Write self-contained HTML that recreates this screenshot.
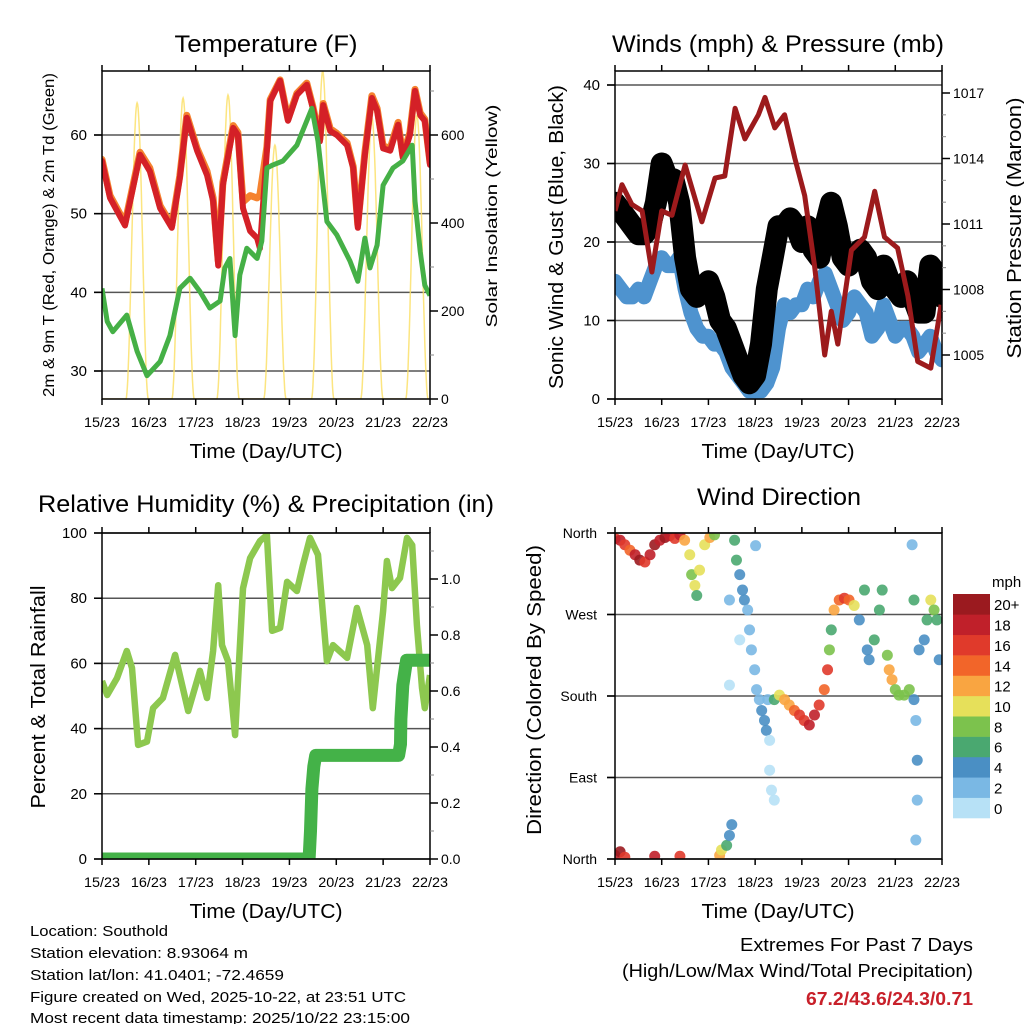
<!DOCTYPE html>
<html><head><meta charset="utf-8"><style>
html,body{margin:0;padding:0;background:#fff;}
svg{display:block;font-family:"Liberation Sans",sans-serif;}
</style></head><body>
<svg id="fig" width="1024" height="1024" viewBox="0 0 1024 1024" xmlns="http://www.w3.org/2000/svg">
<rect width="1024" height="1024" fill="#fff"/>
<text x="266" y="52" font-size="24" text-anchor="middle" textLength="183" lengthAdjust="spacingAndGlyphs">Temperature (F)</text>
<text x="778" y="52" font-size="24" text-anchor="middle" textLength="332" lengthAdjust="spacingAndGlyphs">Winds (mph) &amp; Pressure (mb)</text>
<text x="266" y="512" font-size="24" text-anchor="middle" textLength="456" lengthAdjust="spacingAndGlyphs">Relative Humidity (%) &amp; Precipitation (in)</text>
<text x="779" y="505" font-size="24" text-anchor="middle" textLength="164" lengthAdjust="spacingAndGlyphs">Wind Direction</text>
<text x="266" y="458" font-size="20" text-anchor="middle" textLength="153" lengthAdjust="spacingAndGlyphs">Time (Day/UTC)</text>
<text x="778" y="458" font-size="20" text-anchor="middle" textLength="153" lengthAdjust="spacingAndGlyphs">Time (Day/UTC)</text>
<text x="266" y="918" font-size="20" text-anchor="middle" textLength="153" lengthAdjust="spacingAndGlyphs">Time (Day/UTC)</text>
<text x="778" y="918" font-size="20" text-anchor="middle" textLength="153" lengthAdjust="spacingAndGlyphs">Time (Day/UTC)</text>
<text transform="translate(54,235) rotate(-90)" font-size="16" text-anchor="middle" textLength="324" lengthAdjust="spacingAndGlyphs">2m &amp; 9m T (Red, Orange) &amp; 2m Td (Green)</text>
<text transform="translate(497,216) rotate(-90)" font-size="16" text-anchor="middle" textLength="223" lengthAdjust="spacingAndGlyphs">Solar Insolation (Yellow)</text>
<text transform="translate(563,237) rotate(-90)" font-size="20" text-anchor="middle" textLength="304" lengthAdjust="spacingAndGlyphs">Sonic Wind &amp; Gust (Blue, Black)</text>
<text transform="translate(1021,228) rotate(-90)" font-size="20" text-anchor="middle" textLength="261" lengthAdjust="spacingAndGlyphs">Station Pressure (Maroon)</text>
<text transform="translate(45,697) rotate(-90)" font-size="20" text-anchor="middle" textLength="223" lengthAdjust="spacingAndGlyphs">Percent &amp; Total Rainfall</text>
<text transform="translate(541,690) rotate(-90)" font-size="20" text-anchor="middle" textLength="290" lengthAdjust="spacingAndGlyphs">Direction (Colored By Speed)</text>
<g font-size="15">
<text x="30" y="936" textLength="138" lengthAdjust="spacingAndGlyphs">Location: Southold</text>
<text x="30" y="958" textLength="218" lengthAdjust="spacingAndGlyphs">Station elevation: 8.93064 m</text>
<text x="30" y="980" textLength="254" lengthAdjust="spacingAndGlyphs">Station lat/lon: 41.0401; -72.4659</text>
<text x="30" y="1002" textLength="376" lengthAdjust="spacingAndGlyphs">Figure created on Wed, 2025-10-22, at 23:51 UTC</text>
<text x="30" y="1023" textLength="380" lengthAdjust="spacingAndGlyphs">Most recent data timestamp: 2025/10/22 23:15:00</text>
</g>
<text x="973" y="951" font-size="18" text-anchor="end" textLength="233" lengthAdjust="spacingAndGlyphs">Extremes For Past 7 Days</text>
<text x="973" y="977" font-size="18" text-anchor="end" textLength="351" lengthAdjust="spacingAndGlyphs">(High/Low/Max Wind/Total Precipitation)</text>
<text x="973" y="1005" font-size="18" font-weight="bold" fill="#c8202a" text-anchor="end" textLength="167" lengthAdjust="spacingAndGlyphs">67.2/43.6/24.3/0.71</text>
<g id="layer"></g>
</svg>
<script>
const dayLabels = ["15/23","16/23","17/23","18/23","19/23","20/23","21/23","22/23"];
const tempTicks = [30,40,50,60];
const solarTicks = [0,200,400,600];
const windTicks = [0,10,20,30,40];
const pressTicks = [1005,1008,1011,1014,1017];
const rhTicks = [0,20,40,60,80,100];
const rainTicks = [0.0,0.2,0.4,0.6,0.8,1.0];
const dirLabels = ["North","East","South","West","North"];
const speedLabels = ["0","2","4","6","8","10","12","14","16","18","20+"];

const tempTimes = [0,0.17,0.49,0.81,1.02,1.24,1.49,1.66,1.81,2.03,2.24,2.37,2.48,2.58,2.80,2.90,3.01,3.16,3.31,3.37,3.52,3.59,3.80,3.97,4.16,4.37,4.50,4.65,4.72,4.87,5.01,5.23,5.36,5.46,5.61,5.76,5.87,6.00,6.15,6.32,6.42,6.57,6.68,6.79,6.89,7.0];
const tempRed = [56.7,52.0,48.5,57.5,55.4,50.7,48.2,54.5,62.2,58.0,54.9,51.6,43.4,53.6,60.9,60.0,50.7,47.8,46.9,45.6,58.0,64.3,66.9,61.8,65.1,66.4,63.4,59.2,63.8,60.5,60.0,58.7,55.8,48.2,57.5,64.7,63.1,58.3,58.0,61.3,57.1,60.0,65.6,62.5,61.8,56.2];
const tempOrange = [56.9,52.3,48.8,57.8,55.8,51.0,48.5,54.8,62.5,58.3,55.4,52.0,44.0,54.0,61.2,60.3,51.5,52.3,52.0,52.4,58.5,64.5,67.0,62.0,65.3,66.6,63.6,59.5,64.0,60.8,60.2,59.0,56.0,48.6,57.8,65.0,63.4,58.6,58.3,61.6,57.4,60.3,65.8,62.8,62.0,56.5];
const dewTimes = [0,0.11,0.23,0.53,0.75,0.96,1.24,1.45,1.66,1.88,2.09,2.30,2.52,2.62,2.73,2.84,2.94,3.09,3.31,3.41,3.52,3.65,3.86,4.16,4.37,4.48,4.61,4.80,5.01,5.29,5.46,5.61,5.72,5.87,6.00,6.21,6.42,6.62,6.68,6.79,6.89,7.0];
const dewValues = [40.5,36.3,35.0,37.1,32.5,29.4,31.2,34.5,40.5,41.8,40.1,38.0,38.9,43.1,44.3,34.5,42.2,45.6,44.3,46.5,55.8,56.2,56.7,58.7,61.8,63.4,59.2,49.0,47.3,44.0,41.4,46.9,43.1,46.0,53.6,55.8,56.7,58.7,51.6,45.2,40.9,39.6];
const solarPeakTimes = [0.75,1.73,2.69,3.69,4.71,5.76,6.72];
const solarPeakValues = [673,684,691,577,745,639,645];

const windTimes = [0,0.125,0.25,0.375,0.5,0.625,0.75,0.875,1,1.125,1.25,1.375,1.5,1.625,1.75,1.875,2,2.125,2.25,2.375,2.5,2.625,2.75,2.875,3,3.125,3.25,3.375,3.5,3.625,3.75,3.875,4,4.125,4.25,4.375,4.5,4.625,4.75,4.875,5,5.125,5.25,5.375,5.5,5.625,5.75,5.875,6,6.125,6.25,6.375,6.5,6.625,6.75,6.875,7];
const windSpeed = [15,14,13,13,14,13,15,17,18,17,17,18,14,11,9,8,8,7,7,6,4,3,2,1,1,1,2,4,9,12,11,12,12,14,13,15,16,14,12,10,11,13,12,11,8,9,12,10,8,9,9,8,6,7,8,6,5];
const gustSpeed = [25,24,23,22,21,21,22,25,30,28,28,25,18,14,13,14,15,13,10,9,7,5,3,2,3,7,14,18,22,22,23,22,20,22,19,18,22,25,22,18,17,18,19,18,15,14,17,15,14,13,15,13,11,11,17,16,13];
const pressTimes = [0,0.15,0.36,0.58,0.79,1.0,1.22,1.50,1.86,2.14,2.35,2.57,2.78,3.07,3.21,3.42,3.63,3.85,4.06,4.27,4.49,4.63,4.77,5.06,5.34,5.56,5.77,6.05,6.27,6.48,6.76,6.98];
const pressValues = [1011.6,1012.8,1011.9,1011.6,1008.8,1011.6,1011.4,1013.7,1011.1,1013.1,1013.2,1016.3,1014.9,1016.0,1016.8,1015.4,1016.0,1014.0,1012.3,1009.1,1005.0,1007.0,1005.5,1009.8,1010.4,1012.5,1010.4,1009.9,1007.7,1004.7,1004.4,1007.3];

const rhTimes = [0,0.11,0.32,0.53,0.64,0.77,0.96,1.09,1.30,1.56,1.84,2.09,2.24,2.37,2.48,2.56,2.69,2.84,3.01,3.16,3.37,3.52,3.63,3.80,3.95,4.16,4.29,4.44,4.61,4.80,4.93,5.23,5.44,5.66,5.78,6.00,6.08,6.19,6.36,6.51,6.62,6.72,6.83,6.89,7.0];
const rhValues = [54.6,50.3,55.5,63.8,58.6,35,36,46.3,49.4,62.6,45.4,57.7,49.4,63.8,84,65.6,60.7,38,83,92.3,97.5,99.4,70,70.9,85,82.2,90.2,98.5,93.3,60.7,65.6,61.7,77,65.6,46.3,76,91.4,83.1,86.2,98.5,96.3,71.8,52.5,46.3,56.4];
const rainTimes = [0,4.42,4.45,4.48,4.52,4.56,6.33,6.37,6.38,6.42,6.5,7.0];
const rainValues = [0,0,0.1,0.25,0.33,0.37,0.37,0.41,0.5,0.62,0.71,0.71];

const dirTimes = [0,0.11,0.21,0.32,0.43,0.53,0.64,0.75,0.85,0.96,1.07,1.17,1.28,1.39,1.49,1.60,1.64,1.71,1.75,1.81,1.92,2.03,2.13,2.56,2.60,2.67,2.73,2.77,2.84,2.88,2.92,2.99,3.03,3.09,3.14,3.20,3.24,3.27,3.31,3.35,3.41,3.31,2.45,2.67,2.45,3.01,3.41,3.52,3.63,3.73,3.84,3.95,4.05,4.16,4.27,4.37,4.48,4.55,4.59,4.63,4.69,4.80,4.91,5.01,5.12,5.23,5.34,5.40,5.44,5.55,5.66,5.72,5.83,5.87,5.93,6.00,6.08,6.19,6.30,6.40,6.44,6.47,6.47,6.44,6.40,6.36,6.51,6.62,6.68,6.76,6.83,6.89,6.94,0,0.11,0.21,0.85,1.39,2.24,2.28,2.39,2.45,2.50];
const dirValues = [354,352,347,341,336,330,328,336,347,352,355,357,354,358,352,336,314,302,291,319,347,355,358,352,330,314,297,286,275,253,231,209,187,176,164,153,142,176,131,76,65,98,286,242,192,346,176,181,176,170,164,159,153,148,159,170,187,209,231,253,275,286,288,286,280,264,297,231,220,242,275,297,225,209,198,187,181,181,187,176,153,109,65,21,286,347,231,242,264,286,275,264,220,4,8,2,3,3,4,10,15,26,38];
const dirSpeed = [16,18,16,14,18,20,16,18,20,18,20,18,16,18,12,10,8,10,6,10,10,12,8,6,6,4,4,4,2,2,2,2,2,2,4,4,4,2,0,0,0,0,2,0,0,2,6,10,12,12,14,16,16,18,18,16,14,16,8,6,12,14,16,14,10,4,6,4,4,6,6,6,8,12,12,8,8,8,8,4,2,4,2,2,6,2,4,4,6,10,8,6,4,18,20,16,18,16,12,10,6,4,4];

const NS="http://www.w3.org/2000/svg";
const layer=document.getElementById('layer');
function mk(tag, attrs, parent){const e=document.createElementNS(NS,tag);for(const k in attrs)e.setAttribute(k,attrs[k]);(parent||layer).appendChild(e);return e;}
function lin(d0,d1,r0,r1){return v=>r0+(v-d0)*(r1-r0)/(d1-d0);}
const speedColors=["#b7e1f6","#7ab8e4","#4a8fc4","#4aa870","#7cc24d","#e6e05a","#f9a541","#f26529","#e03a2b","#c0202a","#9b1a1f"];

const P1={x0:102,x1:430,y0:71,y1:399}, P2={x0:615,x1:942,y0:71,y1:399}, P3={x0:102,x1:430,y0:533,y1:859}, P4={x0:615,x1:942,y0:533,y1:859};

function timeAxis(P,name){
  const xs=lin(0,7,P.x0,P.x1);
  dayLabels.forEach((lab,i)=>{
    const x=xs(i);
    const t=mk('line',{x1:x,x2:x,y1:P.y1,y2:P.y1+6,stroke:'#000','stroke-width':1.5});
    
    
    const t2=mk('line',{x1:x,x2:x,y1:P.y0,y2:P.y0-6,stroke:'#000','stroke-width':1.5});
    
    
    const tx=mk('text',{x:x,y:P.y1+28,'font-size':14,'text-anchor':'middle',textLength:36,lengthAdjust:'spacingAndGlyphs'});
    tx.textContent=lab;
    
    
  });
  return xs;
}
function grid(P,ys,vals,name){
  vals.forEach(v=>{const y=ys(v); if(y<P.y0-0.5||y>P.y1+0.5) return;
    const g=mk('line',{x1:P.x0-8,x2:P.x1,y1:y,y2:y,stroke:'#555','stroke-width':1.5});
    
    
  });
}
function leftLabels(P,ys,vals,fmt,name,fs){
  vals.forEach(v=>{const y=ys(v);
    const t=mk('text',{x:P.x0-15,y:y+5,'font-size':fs||15,'text-anchor':'end'});
    t.textContent=fmt(v);
    
    
    const k=mk('line',{x1:P.x0-8,x2:P.x0,y1:y,y2:y,stroke:'#000','stroke-width':1.5});
    
    
  });
}
function rightLabels(P,ys,vals,fmt,name,minor){
  if(minor){minor.forEach(v=>{const y=ys(v);const k=mk('line',{x1:P.x1,x2:P.x1+4,y1:y,y2:y,stroke:'#888','stroke-width':1});
    
    });}
  vals.forEach(v=>{const y=ys(v);
    const t=mk('text',{x:P.x1+11,y:y+5,'font-size':14,'text-anchor':'start'});
    t.textContent=fmt(v);
    
    
    const k=mk('line',{x1:P.x1,x2:P.x1+8,y1:y,y2:y,stroke:'#000','stroke-width':1.5});
    
    
  });
}
function frame(P,name){
  const r=mk('rect',{x:P.x0,y:P.y0,width:P.x1-P.x0,height:P.y1-P.y0,fill:'none',stroke:'#000','stroke-width':1.5});
  
  
}
function clipFor(P,id){const c=mk('clipPath',{id:id});mk('rect',{x:P.x0,y:P.y0,width:P.x1-P.x0,height:P.y1-P.y0},c);return 'url(#'+id+')';}
function pathFrom(ts,vs,xs,ys){return ts.map((t,i)=>(i?'L':'M')+xs(t).toFixed(1)+','+ys(vs[i]).toFixed(1)).join(' ');}

{
  const xs=lin(0,7,P1.x0,P1.x1), ys=lin(30,60,371,135), ss=lin(0,600,399,135);
  grid(P1,ys,tempTicks,'temp');
  const cp=clipFor(P1,'c1');
  const g=mk('g',{'clip-path':cp});
  
  
  let d='';
  for(let t=0;t<=7.0001;t+=0.01){
    let v=0; solarPeakTimes.forEach((pt,i)=>{const u=(t-pt)/0.24; if(Math.abs(u)<1){const c=Math.cos(u*Math.PI/2); v=Math.max(v,solarPeakValues[i]*c*c);} });
    d+=(d?'L':'M')+xs(t).toFixed(1)+','+ss(v).toFixed(1);
  }
  const sp=mk('path',{d:d,fill:'none',stroke:'#fbe06a','stroke-width':1.5,opacity:0.85},g);
  
  
  const op=mk('path',{d:pathFrom(tempTimes,tempOrange,xs,ys),fill:'none',stroke:'#f5822f','stroke-width':7,'stroke-linejoin':'round','stroke-linecap':'round'},g);
  
  
  const rp=mk('path',{d:pathFrom(tempTimes,tempRed,xs,ys),fill:'none',stroke:'#d42027','stroke-width':6,'stroke-linejoin':'round','stroke-linecap':'round'},g);
  
  
  const gp=mk('path',{d:pathFrom(dewTimes,dewValues,xs,ys),fill:'none',stroke:'#45b046','stroke-width':5,'stroke-linejoin':'round'},g);
  
  
  frame(P1,'temp');
  leftLabels(P1,ys,tempTicks,v=>v,'temp-y',15);
  rightLabels(P1,ss,solarTicks,v=>v,'solar-y',[100,300,500,700]);
  timeAxis(P1,'temp');
}
{
  const xs=lin(0,7,P2.x0,P2.x1), ys=lin(0,40,399,85), ps=lin(1005,1017,355,93);
  grid(P2,ys,windTicks,'wind');
  const cp=clipFor(P2,'c2');
  const g=mk('g',{'clip-path':cp});
  
  
  const bp=mk('path',{d:pathFrom(windTimes,windSpeed,xs,ys),fill:'none',stroke:'#4e93cf','stroke-width':15,'stroke-linejoin':'round','stroke-linecap':'round'},g);
  
  
  const kp=mk('path',{d:pathFrom(windTimes,gustSpeed,xs,ys),fill:'none',stroke:'#000','stroke-width':22,'stroke-linejoin':'round','stroke-linecap':'round'},g);
  
  
  const mp=mk('path',{d:pathFrom(pressTimes,pressValues,xs,ps),fill:'none',stroke:'#9c1a1c','stroke-width':5,'stroke-linejoin':'round'},g);
  
  
  frame(P2,'wind');
  leftLabels(P2,ys,windTicks,v=>v,'wind-y',15);
  rightLabels(P2,ps,pressTicks,v=>v,'pressure-y',[1006,1007,1009,1010,1012,1013,1015,1016]);
  timeAxis(P2,'wind');
}
{
  const xs=lin(0,7,P3.x0,P3.x1), ys=lin(0,100,859,533), rs=lin(0,1,859,579);
  grid(P3,ys,rhTicks,'rh');
  const cp=clipFor(P3,'c3');
  const g=mk('g',{'clip-path':cp});
  
  
  const hp=mk('path',{d:pathFrom(rhTimes,rhValues,xs,ys),fill:'none',stroke:'#8dc84f','stroke-width':6.5,'stroke-linejoin':'round'},g);
  
  
  const pp=mk('path',{d:pathFrom(rainTimes,rainValues,xs,rs),fill:'none',stroke:'#44b248','stroke-width':13,'stroke-linejoin':'round','stroke-linecap':'round'},g);
  
  
  frame(P3,'rh');
  leftLabels(P3,ys,rhTicks,v=>v,'rh-y',15);
  rightLabels(P3,rs,rainTicks,v=>v.toFixed(1),'rain-y',[0.1,0.3,0.5,0.7,0.9,1.1]);
  timeAxis(P3,'rh');
}
{
  const xs=lin(0,7,P4.x0,P4.x1), ys=lin(0,360,859,533);
  grid(P4,ys,[0,90,180,270,360],'dir');
  const cp=clipFor(P4,'c4');
  const g=mk('g',{'clip-path':cp});
  
  
  dirTimes.forEach((t,i)=>{
    const ci=Math.min(10,Math.round(dirSpeed[i]/2));
    const c=mk('circle',{cx:xs(t),cy:ys(dirValues[i]),r:5.5,fill:speedColors[ci],opacity:0.9},g);
    
    
  });
  frame(P4,'dir');
  [0,90,180,270,360].forEach((v,i)=>{const y=ys(v);
    const t=mk('text',{x:P4.x0-18,y:y+5,'font-size':14,'text-anchor':'end'});
    t.textContent=dirLabels[i];
    
    
    const k=mk('line',{x1:P4.x0-8,x2:P4.x0,y1:y,y2:y,stroke:'#000','stroke-width':1.5});
    
    
  });
  timeAxis(P4,'dir');
  const cb0=818, cbh=(818-594)/11;
  speedLabels.forEach((lab,i)=>{
    const y=cb0-(i+1)*cbh;
    const r=mk('rect',{x:953,y:y,width:37,height:cbh+0.3,fill:speedColors[i]});
    
    
    const t=mk('text',{x:994,y:y+cbh/2+6,'font-size':15});
    t.textContent=lab;
    
    
  });
  const u=mk('text',{x:992,y:587,'font-size':15});
  u.textContent='mph';
  
  
}
</script>
</body></html>
